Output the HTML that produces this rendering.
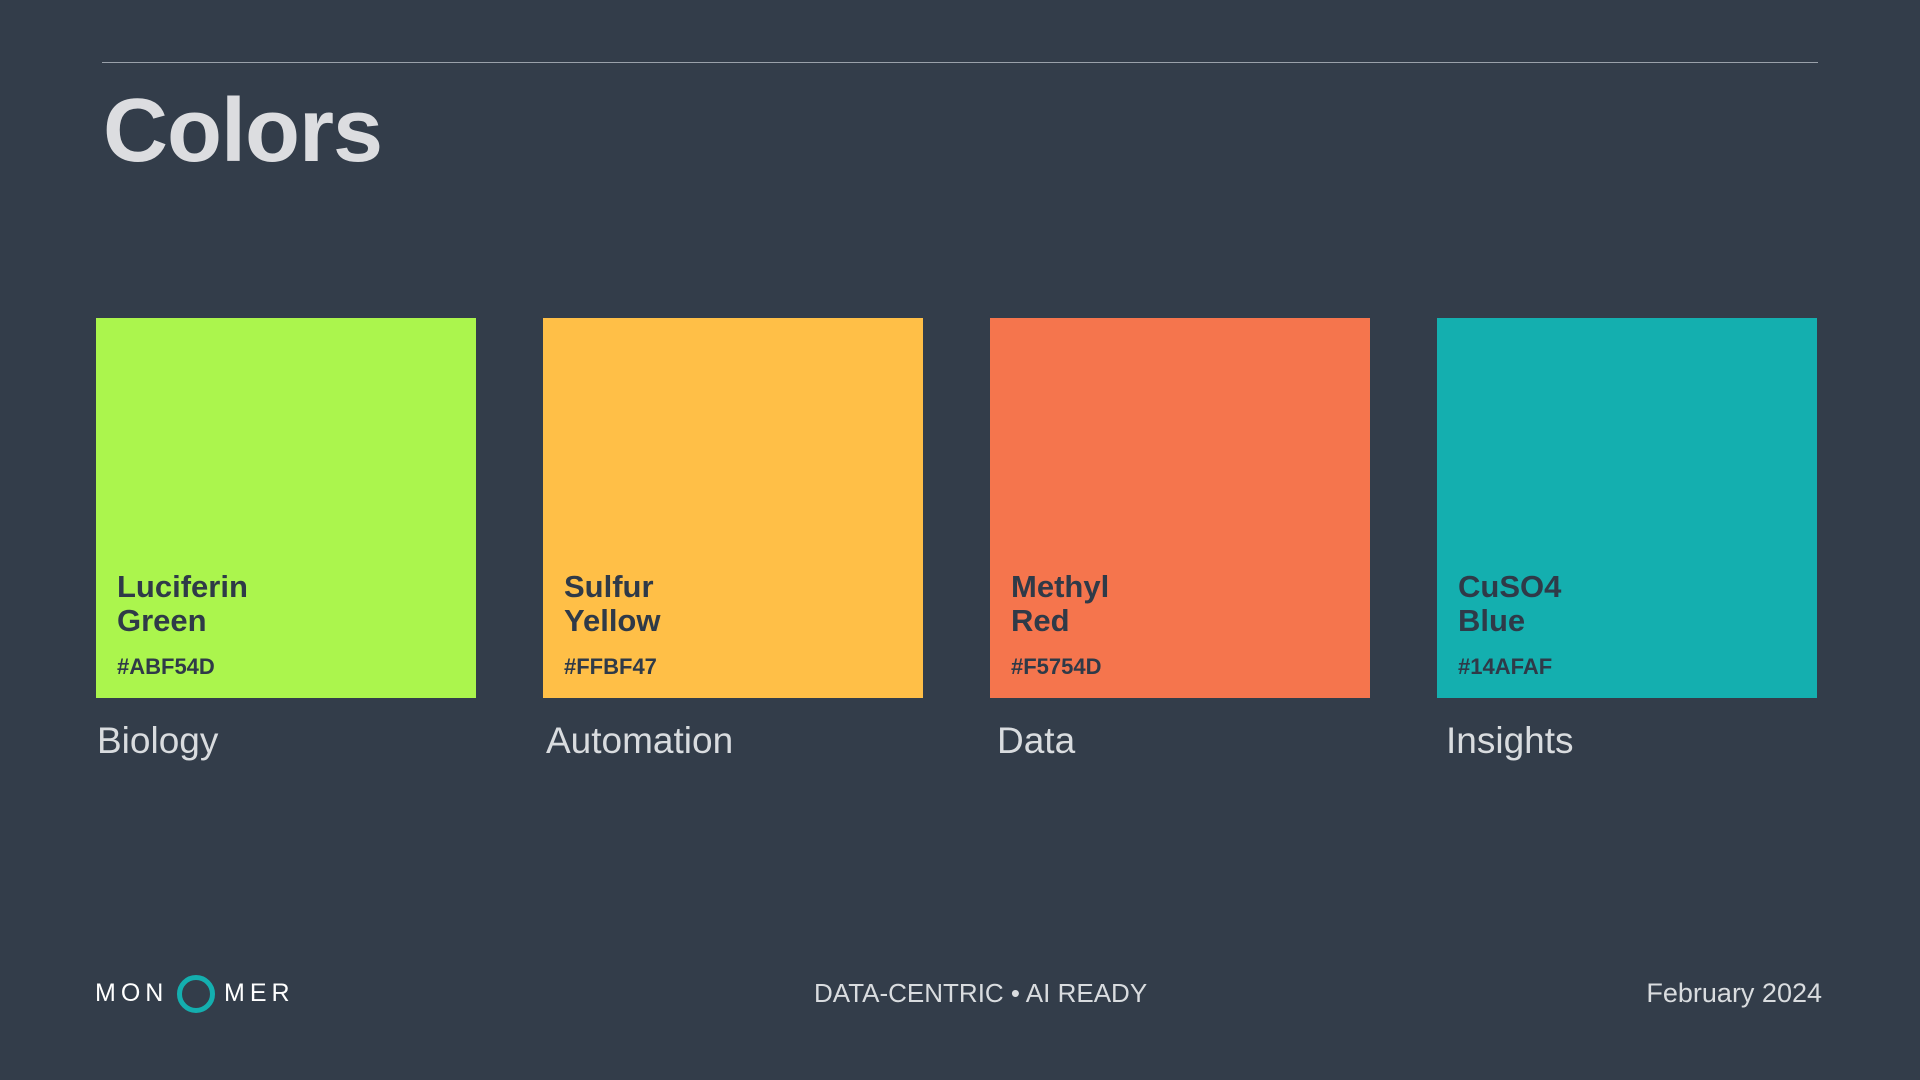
<!DOCTYPE html>
<html><head><meta charset="utf-8"><style>
*{margin:0;padding:0;box-sizing:border-box}
body{width:1920px;height:1080px;background:#333d4a;font-family:"Liberation Sans",sans-serif;position:relative;overflow:hidden}
.line{position:absolute;left:102px;top:62px;width:1716px;height:1px;background:#9aa1aa}
h1{position:absolute;left:103px;top:80px;font-size:90px;font-weight:bold;color:#dcdde0;letter-spacing:-1px}
.sw{position:absolute;top:318px;width:380px;height:380px}
.sw .n{position:absolute;left:21px;top:252px;font-size:31px;font-weight:bold;line-height:34px;color:#2f3a48}
.sw .h{position:absolute;left:21px;top:336px;font-size:22px;font-weight:bold;color:#2f3a48}
.lb{position:absolute;top:720px;font-size:37px;color:#d9dcdf}
.ft{position:absolute;top:978px;font-size:26px;color:#d9dcdf}
.logo{position:absolute;top:979px;font-size:25px;color:#fff;letter-spacing:5px}
.ring{position:absolute;left:177px;top:975px;width:38px;height:38px;border:5px solid #14afaf;border-radius:50%}
</style></head><body>
<div class="line"></div>
<h1>Colors</h1>
<div class="sw" style="left:96px;background:#abf54d"><div class="n">Luciferin<br>Green</div><div class="h">#ABF54D</div></div>
<div class="sw" style="left:543px;background:#ffbf47"><div class="n">Sulfur<br>Yellow</div><div class="h">#FFBF47</div></div>
<div class="sw" style="left:990px;background:#f5754d"><div class="n">Methyl<br>Red</div><div class="h">#F5754D</div></div>
<div class="sw" style="left:1437px;background:#14afaf"><div class="n">CuSO4<br>Blue</div><div class="h">#14AFAF</div></div>
<div class="lb" style="left:97px">Biology</div>
<div class="lb" style="left:546px">Automation</div>
<div class="lb" style="left:997px">Data</div>
<div class="lb" style="left:1446px">Insights</div>
<div class="logo" style="left:95px">MON</div>
<div class="ring"></div>
<div class="logo" style="left:224px">MER</div>
<div class="ft" style="left:814px">DATA-CENTRIC • AI READY</div>
<div class="ft" style="right:98px;font-size:27px">February 2024</div>
</body></html>
